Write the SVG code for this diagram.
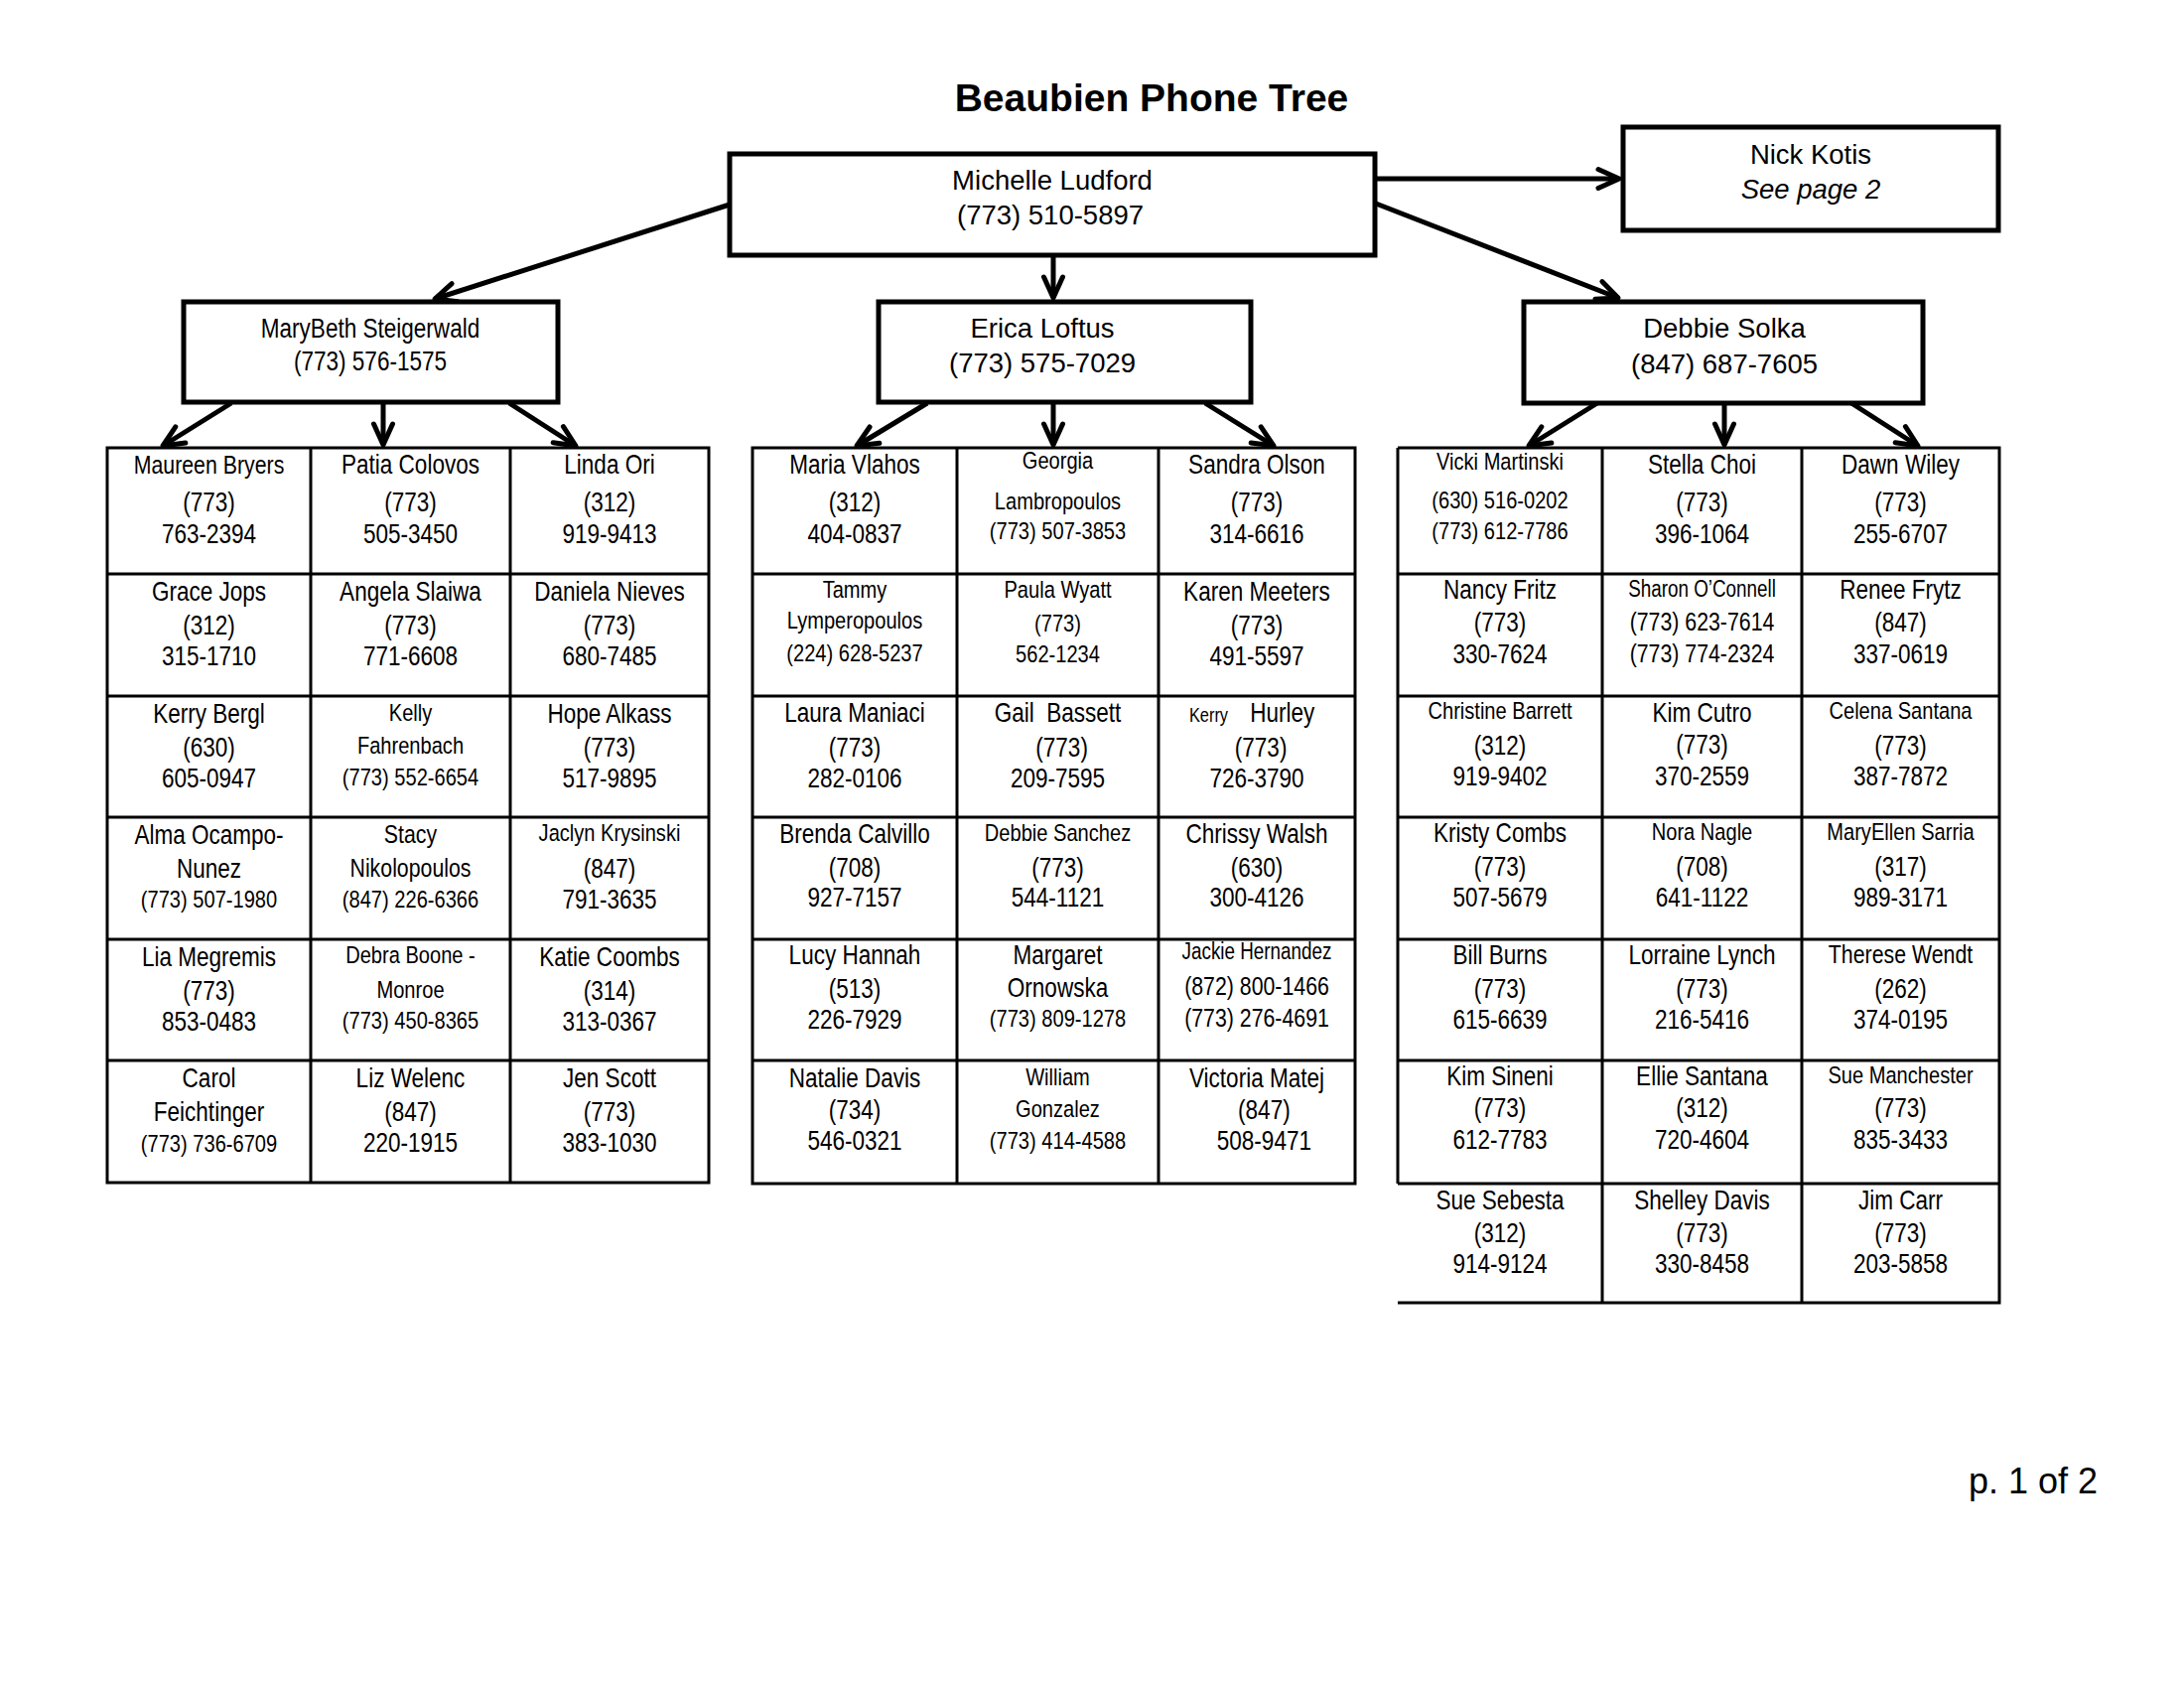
<svg xmlns="http://www.w3.org/2000/svg" width="2200" height="1700" viewBox="0 0 2200 1700">
<style>
text{font-family:"Liberation Sans",Arial,sans-serif;fill:#000}
.title{font-size:39px;font-weight:bold;text-anchor:middle}
.box{fill:#fff;stroke:#000;stroke-width:5}
.bt{font-size:27.5px;text-anchor:middle}
.it{font-style:italic}
.grid{fill:none;stroke:#000;stroke-width:3}
.cell text{font-size:27.5px;text-anchor:middle}
.cell .s{font-size:24.5px}
.cell .m{font-size:26px}
.cell .xs{font-size:23px}
.cell .k{font-size:20px}
.conn{fill:none;stroke:#000;stroke-width:5;marker-end:url(#ah)}
.pg{font-size:36px;text-anchor:end}
</style>
<defs>
<marker id="ah" markerUnits="userSpaceOnUse" markerWidth="40" markerHeight="30" viewBox="-30 -15 40 30" refX="0" refY="0" orient="auto">
<path d="M-21,-9.5 L0,0 L-21,9.5" fill="none" stroke="#000" stroke-width="5" stroke-linejoin="round" stroke-linecap="round"/>
</marker>
</defs>
<rect width="2200" height="1700" fill="#fff"/>
<text class="title" x="1160" y="112">Beaubien Phone Tree</text>

<g id="connectors">
<path class="conn" d="M735,206 L438,301"/>
<path class="conn" d="M1061,257 L1061,300"/>
<path class="conn" d="M1386,205 L1630,300"/>
<path class="conn" d="M1386,180 L1631,180"/>
<path class="conn" d="M233,406 L164,449"/>
<path class="conn" d="M386,406 L386,448"/>
<path class="conn" d="M513,406 L580,449"/>
<path class="conn" d="M934,406 L863,449"/>
<path class="conn" d="M1061,406 L1061,448"/>
<path class="conn" d="M1214,406 L1283,449"/>
<path class="conn" d="M1609,406 L1540,449"/>
<path class="conn" d="M1737,406 L1737,448"/>
<path class="conn" d="M1865,406 L1932,449"/>
</g>

<g id="michelle-ludford">
<rect class="box" x="735" y="155" width="650" height="102"/>
<text class="bt" x="1060" y="191">Michelle Ludford</text>
<text class="bt" x="1058" y="226">(773) 510-5897</text>
</g>
<g id="nick-kotis">
<rect class="box" x="1635" y="128" width="378" height="104"/>
<text class="bt" x="1824" y="165">Nick Kotis</text>
<text class="bt it" x="1824" y="200">See page 2</text>
</g>
<g id="marybeth-steigerwald">
<rect class="box" x="185" y="304" width="377" height="101"/>
<g class="cell" transform="translate(373 0) scale(0.82 1)">
<text y="340">MaryBeth Steigerwald</text>
<text y="373">(773) 576-1575</text>
</g>
</g>
<g id="erica-loftus">
<rect class="box" x="885" y="304" width="375" height="101"/>
<text class="bt" x="1050" y="340">Erica Loftus</text>
<text class="bt" x="1050" y="375">(773) 575-7029</text>
</g>
<g id="debbie-solka">
<rect class="box" x="1535" y="304" width="402" height="102"/>
<text class="bt" x="1737" y="340">Debbie Solka</text>
<text class="bt" x="1737" y="376">(847) 687-7605</text>
</g>

<g id="table-left" class="grid">
<rect x="108" y="451" width="606" height="740"/>
<path d="M313,451 V1191 M514,451 V1191 M108,578 H714 M108,701 H714 M108,823 H714 M108,946 H714 M108,1068 H714"/>
</g>
<g id="table-middle" class="grid">
<rect x="758" y="451" width="607" height="741"/>
<path d="M964,451 V1192 M1167,451 V1192 M758,578 H1365 M758,701 H1365 M758,823 H1365 M758,946 H1365 M758,1068 H1365"/>
</g>
<g id="table-right" class="grid">
<path d="M1408,451 H2014 V1312 H1408 M1408,451 V1192 M1614,451 V1312 M1815,451 V1312 M1408,578 H2014 M1408,701 H2014 M1408,823 H2014 M1408,946 H2014 M1408,1068 H2014 M1408,1192 H2014"/>
</g>

<!-- Left table -->
<g id="maureen-bryers" class="cell" transform="translate(210.5 0) scale(0.82 1)"><text class="m" y="477">Maureen Bryers</text><text y="515">(773)</text><text y="547">763-2394</text></g>
<g id="patia-colovos" class="cell" transform="translate(413.5 0) scale(0.82 1)"><text y="477">Patia Colovos</text><text y="515">(773)</text><text y="547">505-3450</text></g>
<g id="linda-ori" class="cell" transform="translate(614 0) scale(0.82 1)"><text y="477">Linda Ori</text><text y="515">(312)</text><text y="547">919-9413</text></g>

<g id="grace-jops" class="cell" transform="translate(210.5 0) scale(0.82 1)"><text y="605">Grace Jops</text><text y="639">(312)</text><text y="670">315-1710</text></g>
<g id="angela-slaiwa" class="cell" transform="translate(413.5 0) scale(0.82 1)"><text y="605">Angela Slaiwa</text><text y="639">(773)</text><text y="670">771-6608</text></g>
<g id="daniela-nieves" class="cell" transform="translate(614 0) scale(0.82 1)"><text y="605">Daniela Nieves</text><text y="639">(773)</text><text y="670">680-7485</text></g>

<g id="kerry-bergl" class="cell" transform="translate(210.5 0) scale(0.82 1)"><text y="728">Kerry Bergl</text><text y="762">(630)</text><text y="793">605-0947</text></g>
<g id="kelly-fahrenbach" class="cell" transform="translate(413.5 0) scale(0.82 1)"><text class="s" y="726">Kelly</text><text class="s" y="759">Fahrenbach</text><text class="s" y="791">(773) 552-6654</text></g>
<g id="hope-alkass" class="cell" transform="translate(614 0) scale(0.82 1)"><text y="728">Hope Alkass</text><text y="762">(773)</text><text y="793">517-9895</text></g>

<g id="alma-ocampo-nunez" class="cell" transform="translate(210.5 0) scale(0.82 1)"><text y="850">Alma Ocampo-</text><text y="884">Nunez</text><text class="s" y="914">(773) 507-1980</text></g>
<g id="stacy-nikolopoulos" class="cell" transform="translate(413.5 0) scale(0.82 1)"><text class="m" y="849">Stacy</text><text class="m" y="883">Nikolopoulos</text><text class="s" y="914">(847) 226-6366</text></g>
<g id="jaclyn-krysinski" class="cell" transform="translate(614 0) scale(0.82 1)"><text class="s" y="847">Jaclyn Krysinski</text><text y="884">(847)</text><text y="915">791-3635</text></g>

<g id="lia-megremis" class="cell" transform="translate(210.5 0) scale(0.82 1)"><text y="973">Lia Megremis</text><text y="1007">(773)</text><text y="1038">853-0483</text></g>
<g id="debra-boone-monroe" class="cell" transform="translate(413.5 0) scale(0.82 1)"><text class="s" y="970">Debra Boone -</text><text class="s" y="1005">Monroe</text><text class="s" y="1036">(773) 450-8365</text></g>
<g id="katie-coombs" class="cell" transform="translate(614 0) scale(0.82 1)"><text y="973">Katie Coombs</text><text y="1007">(314)</text><text y="1038">313-0367</text></g>

<g id="carol-feichtinger" class="cell" transform="translate(210.5 0) scale(0.82 1)"><text y="1095">Carol</text><text y="1129">Feichtinger</text><text class="s" y="1160">(773) 736-6709</text></g>
<g id="liz-welenc" class="cell" transform="translate(413.5 0) scale(0.82 1)"><text y="1095">Liz Welenc</text><text y="1129">(847)</text><text y="1160">220-1915</text></g>
<g id="jen-scott" class="cell" transform="translate(614 0) scale(0.82 1)"><text y="1095">Jen Scott</text><text y="1129">(773)</text><text y="1160">383-1030</text></g>

<!-- Middle table -->
<g id="maria-vlahos" class="cell" transform="translate(861 0) scale(0.82 1)"><text y="477">Maria Vlahos</text><text y="515">(312)</text><text y="547">404-0837</text></g>
<g id="georgia-lambropoulos" class="cell" transform="translate(1065.5 0) scale(0.82 1)"><text class="s" y="472">Georgia</text><text class="s" y="513">Lambropoulos</text><text class="s" y="543">(773) 507-3853</text></g>
<g id="sandra-olson" class="cell" transform="translate(1266 0) scale(0.82 1)"><text y="477">Sandra Olson</text><text y="515">(773)</text><text y="547">314-6616</text></g>

<g id="tammy-lymperopoulos" class="cell" transform="translate(861 0) scale(0.82 1)"><text class="s" y="602">Tammy</text><text class="s" y="633">Lymperopoulos</text><text class="s" y="666">(224) 628-5237</text></g>
<g id="paula-wyatt" class="cell" transform="translate(1065.5 0) scale(0.82 1)"><text class="s" y="602">Paula Wyatt</text><text class="s" y="636">(773)</text><text class="s" y="667">562-1234</text></g>
<g id="karen-meeters" class="cell" transform="translate(1266 0) scale(0.82 1)"><text y="605">Karen Meeters</text><text y="639">(773)</text><text y="670">491-5597</text></g>

<g id="laura-maniaci" class="cell" transform="translate(861 0) scale(0.82 1)"><text y="727">Laura Maniaci</text><text y="762">(773)</text><text y="793">282-0106</text></g>
<g id="gail-bassett" class="cell" transform="translate(1065.5 0) scale(0.82 1)"><text y="727" xml:space="preserve">Gail  Bassett</text><text x="5" y="762">(773)</text><text y="793">209-7595</text></g>
<g id="kerry-hurley" class="cell" transform="translate(1266 0) scale(0.82 1)"><text x="-6" y="727"><tspan class="k">Kerry</tspan><tspan dx="27">Hurley</tspan></text><text x="5" y="762">(773)</text><text y="793">726-3790</text></g>

<g id="brenda-calvillo" class="cell" transform="translate(861 0) scale(0.82 1)"><text y="849">Brenda Calvillo</text><text y="883">(708)</text><text y="913">927-7157</text></g>
<g id="debbie-sanchez" class="cell" transform="translate(1065.5 0) scale(0.82 1)"><text class="s" y="847">Debbie Sanchez</text><text y="883">(773)</text><text y="913">544-1121</text></g>
<g id="chrissy-walsh" class="cell" transform="translate(1266 0) scale(0.82 1)"><text y="849">Chrissy Walsh</text><text y="883">(630)</text><text y="913">300-4126</text></g>

<g id="lucy-hannah" class="cell" transform="translate(861 0) scale(0.82 1)"><text y="971">Lucy Hannah</text><text y="1005">(513)</text><text y="1036">226-7929</text></g>
<g id="margaret-ornowska" class="cell" transform="translate(1065.5 0) scale(0.82 1)"><text y="971">Margaret</text><text y="1004">Ornowska</text><text class="s" y="1034">(773) 809-1278</text></g>
<g id="jackie-hernandez" class="cell" transform="translate(1266 0) scale(0.82 1)"><text class="xs" y="966">Jackie Hernandez</text><text class="m" y="1002">(872) 800-1466</text><text class="m" y="1034">(773) 276-4691</text></g>

<g id="natalie-davis" class="cell" transform="translate(861 0) scale(0.82 1)"><text y="1095">Natalie Davis</text><text y="1127">(734)</text><text y="1158">546-0321</text></g>
<g id="william-gonzalez" class="cell" transform="translate(1065.5 0) scale(0.82 1)"><text class="s" y="1093">William</text><text class="s" y="1125">Gonzalez</text><text class="s" y="1157">(773) 414-4588</text></g>
<g id="victoria-matej" class="cell" transform="translate(1266 0) scale(0.82 1)"><text y="1095">Victoria Matej</text><text x="9" y="1127">(847)</text><text x="9" y="1158">508-9471</text></g>

<!-- Right table -->
<g id="vicki-martinski" class="cell" transform="translate(1511 0) scale(0.82 1)"><text class="s" y="473">Vicki Martinski</text><text class="s" y="512">(630) 516-0202</text><text class="s" y="543">(773) 612-7786</text></g>
<g id="stella-choi" class="cell" transform="translate(1714.5 0) scale(0.82 1)"><text y="477">Stella Choi</text><text y="515">(773)</text><text y="547">396-1064</text></g>
<g id="dawn-wiley" class="cell" transform="translate(1914.5 0) scale(0.82 1)"><text y="477">Dawn Wiley</text><text y="515">(773)</text><text y="547">255-6707</text></g>

<g id="nancy-fritz" class="cell" transform="translate(1511 0) scale(0.82 1)"><text y="603">Nancy Fritz</text><text y="636">(773)</text><text y="668">330-7624</text></g>
<g id="sharon-oconnell" class="cell" transform="translate(1714.5 0) scale(0.82 1)"><text class="xs" y="601">Sharon O’Connell</text><text class="m" y="635">(773) 623-7614</text><text class="m" y="667">(773) 774-2324</text></g>
<g id="renee-frytz" class="cell" transform="translate(1914.5 0) scale(0.82 1)"><text y="603">Renee Frytz</text><text y="636">(847)</text><text y="668">337-0619</text></g>

<g id="christine-barrett" class="cell" transform="translate(1511 0) scale(0.82 1)"><text class="s" y="724">Christine Barrett</text><text y="760">(312)</text><text y="791">919-9402</text></g>
<g id="kim-cutro" class="cell" transform="translate(1714.5 0) scale(0.82 1)"><text y="727">Kim Cutro</text><text y="759">(773)</text><text y="791">370-2559</text></g>
<g id="celena-santana" class="cell" transform="translate(1914.5 0) scale(0.82 1)"><text class="s" y="724">Celena Santana</text><text y="760">(773)</text><text y="791">387-7872</text></g>

<g id="kristy-combs" class="cell" transform="translate(1511 0) scale(0.82 1)"><text y="848">Kristy Combs</text><text y="882">(773)</text><text y="913">507-5679</text></g>
<g id="nora-nagle" class="cell" transform="translate(1714.5 0) scale(0.82 1)"><text class="s" y="846">Nora Nagle</text><text y="882">(708)</text><text y="913">641-1122</text></g>
<g id="maryellen-sarria" class="cell" transform="translate(1914.5 0) scale(0.82 1)"><text class="s" y="846">MaryEllen Sarria</text><text y="882">(317)</text><text y="913">989-3171</text></g>

<g id="bill-burns" class="cell" transform="translate(1511 0) scale(0.82 1)"><text y="971">Bill Burns</text><text y="1005">(773)</text><text y="1036">615-6639</text></g>
<g id="lorraine-lynch" class="cell" transform="translate(1714.5 0) scale(0.82 1)"><text y="971">Lorraine Lynch</text><text y="1005">(773)</text><text y="1036">216-5416</text></g>
<g id="therese-wendt" class="cell" transform="translate(1914.5 0) scale(0.82 1)"><text class="m" y="970">Therese Wendt</text><text y="1005">(262)</text><text y="1036">374-0195</text></g>

<g id="kim-sineni" class="cell" transform="translate(1511 0) scale(0.82 1)"><text y="1093">Kim Sineni</text><text y="1125">(773)</text><text y="1157">612-7783</text></g>
<g id="ellie-santana" class="cell" transform="translate(1714.5 0) scale(0.82 1)"><text y="1093">Ellie Santana</text><text y="1125">(312)</text><text y="1157">720-4604</text></g>
<g id="sue-manchester" class="cell" transform="translate(1914.5 0) scale(0.82 1)"><text class="s" y="1091">Sue Manchester</text><text y="1125">(773)</text><text y="1157">835-3433</text></g>

<g id="sue-sebesta" class="cell" transform="translate(1511 0) scale(0.82 1)"><text y="1218">Sue Sebesta</text><text y="1251">(312)</text><text y="1282">914-9124</text></g>
<g id="shelley-davis" class="cell" transform="translate(1714.5 0) scale(0.82 1)"><text y="1218">Shelley Davis</text><text y="1251">(773)</text><text y="1282">330-8458</text></g>
<g id="jim-carr" class="cell" transform="translate(1914.5 0) scale(0.82 1)"><text y="1218">Jim Carr</text><text y="1251">(773)</text><text y="1282">203-5858</text></g>

<text class="pg" x="2113" y="1504">p. 1 of 2</text>
</svg>
